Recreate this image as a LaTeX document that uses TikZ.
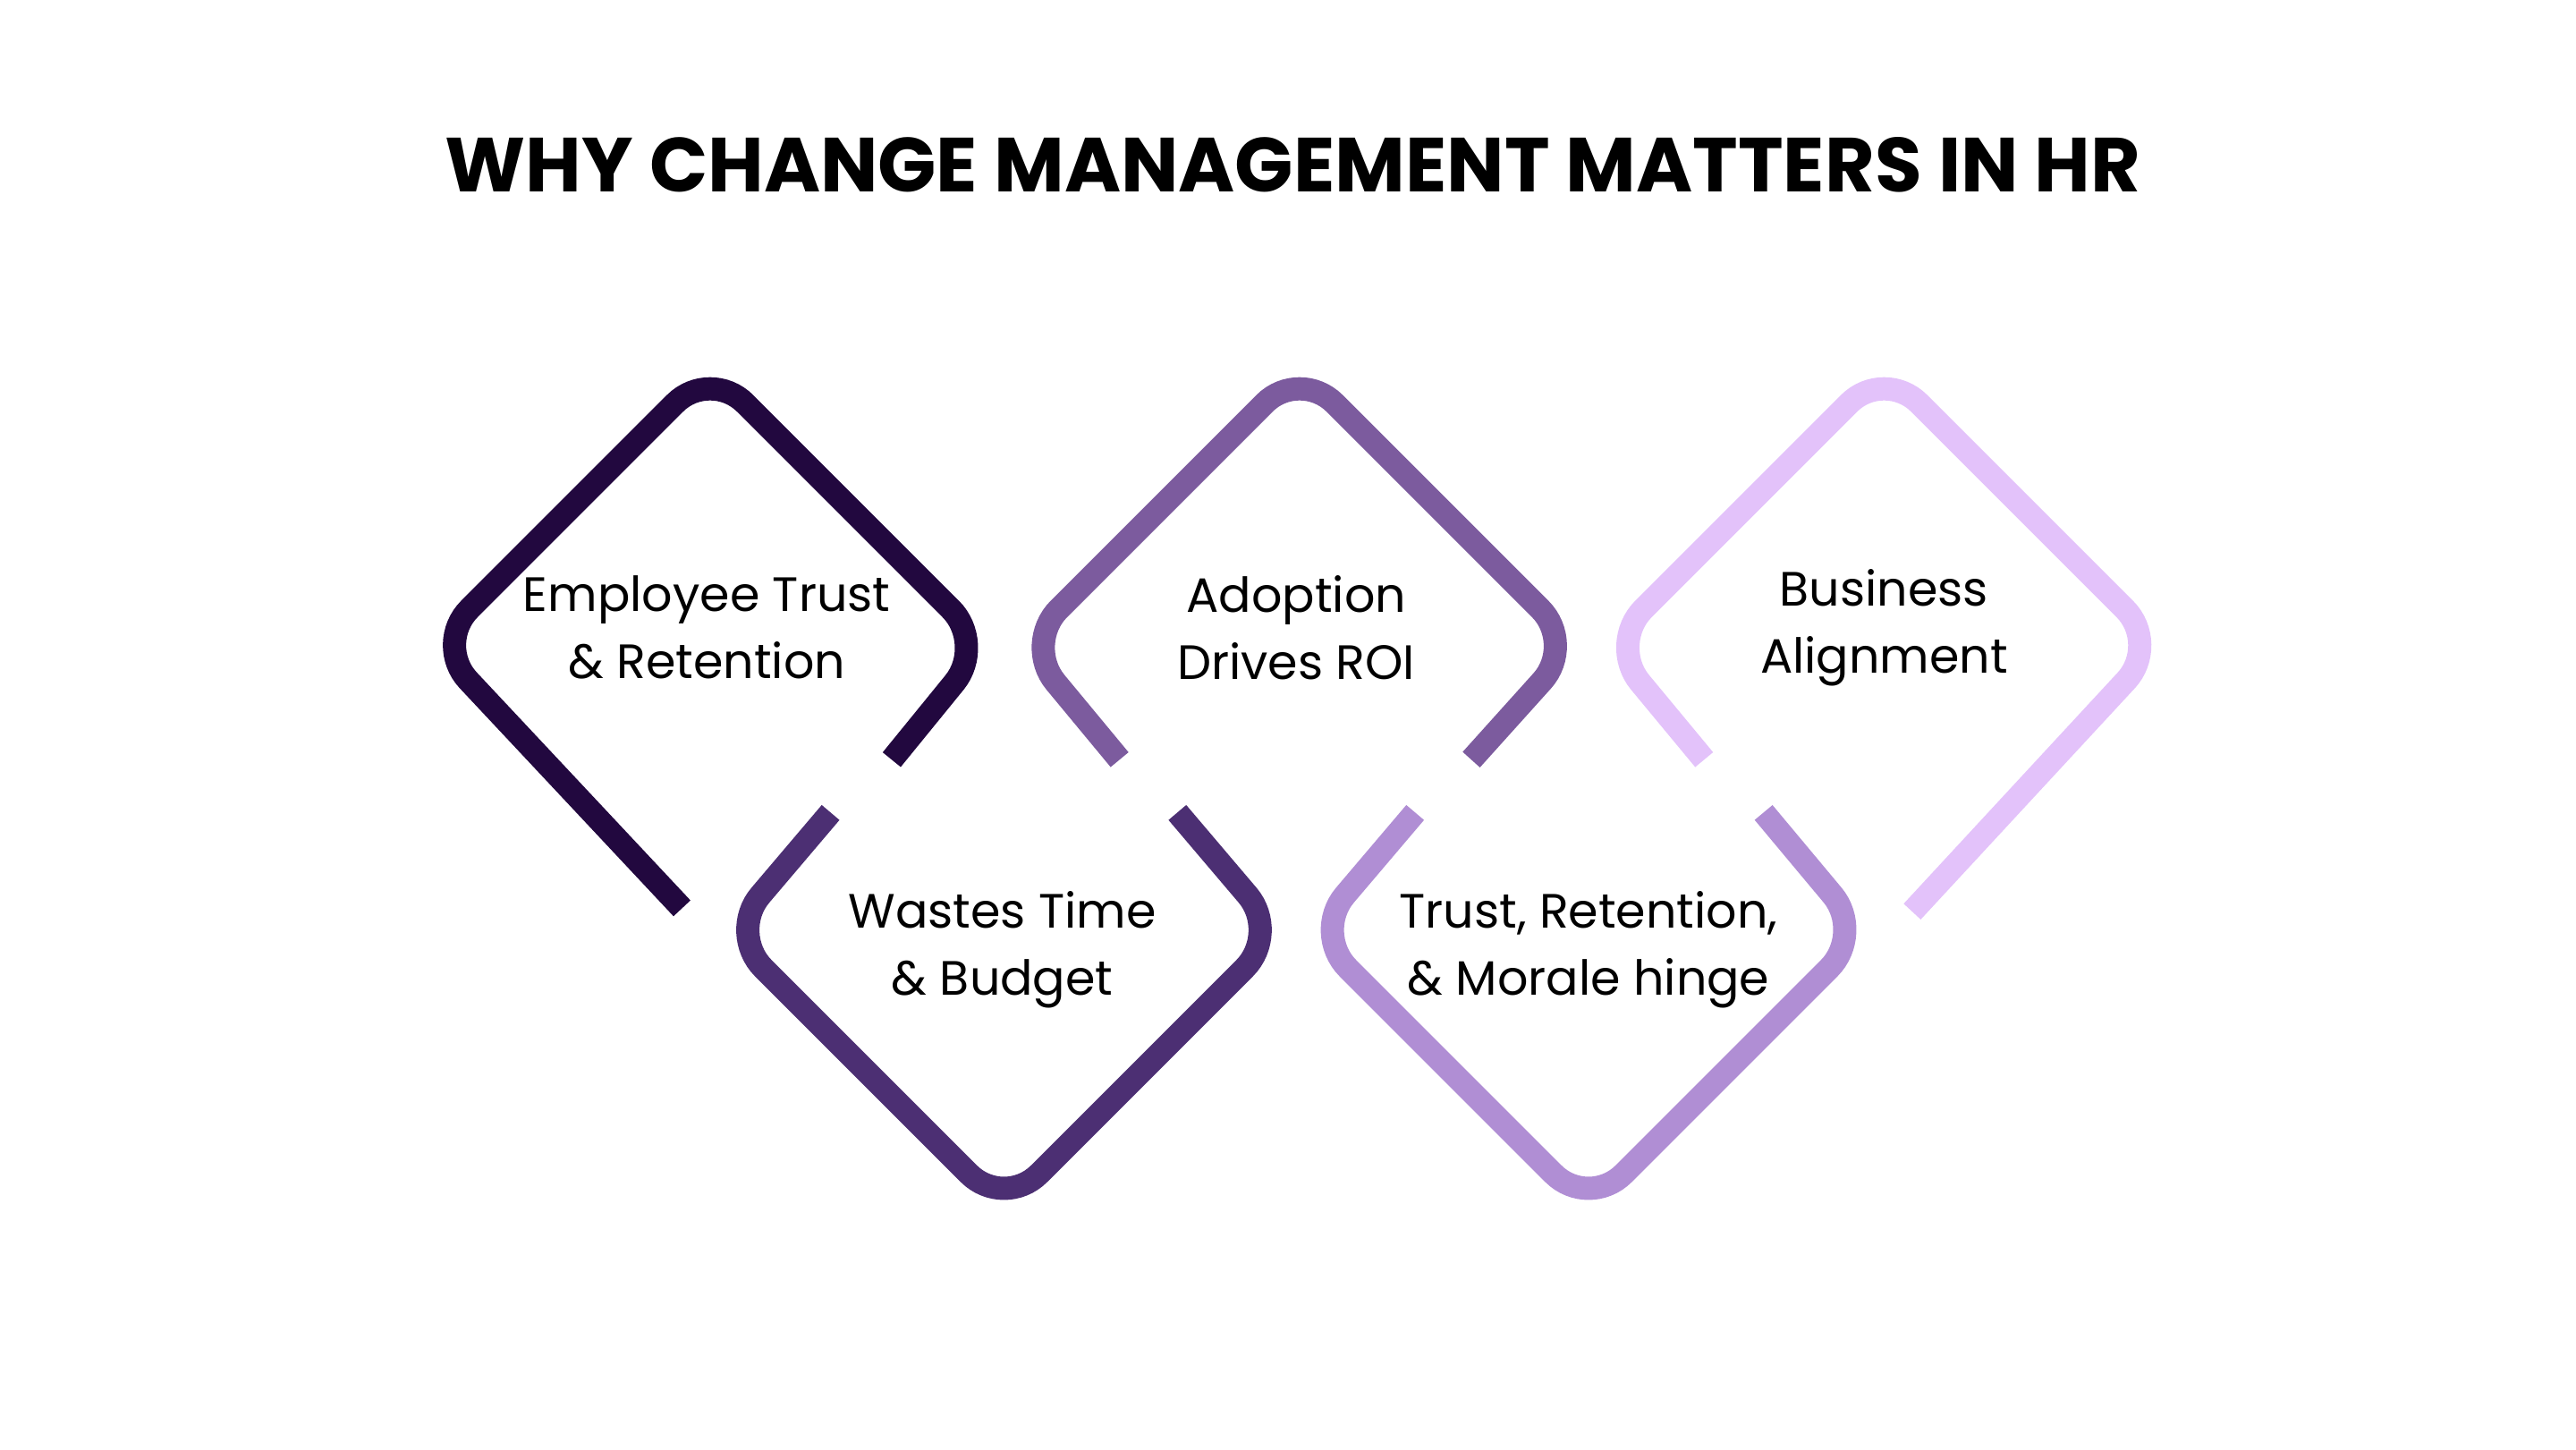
\documentclass[tikz,border=0pt]{standalone}
\usepackage{fontspec}
\setmainfont{Poppins}
\begin{document}
\begin{tikzpicture}[x=0.01cm,y=-0.01cm,
  dia/.style={line width=4pt,rounded corners=0.3cm},
  lbl/.style={font=\fontsize{8.3pt}{11.5pt}\selectfont,align=center,text=black}]
\useasboundingbox (0,0) rectangle (1560,877.5);
\definecolor{c1}{HTML}{22083F}
\definecolor{c2}{HTML}{4C2F73}
\definecolor{c3}{HTML}{7C5B9E}
\definecolor{c4}{HTML}{B08ED4}
\definecolor{c5}{HTML}{E3C2FA}
\node[font=\fontsize{13.2pt}{15pt}\selectfont\bfseries] (title) at (783,100) {WHY CHANGE MANAGEMENT MATTERS IN HR};
% diamond 1
\draw[dia,c1] (540,460) -- (597,390) -- (430,223) -- (263,390) -- (413,550);
% diamond 2
\draw[dia,c2] (503,492) -- (441,565) -- (608,732) -- (775,565) -- (713,492);
% diamond 3
\draw[dia,c3] (678,460) -- (620,390) -- (787,223) -- (954,390) -- (891,460);
% diamond 4
\draw[dia,c4] (857,492) -- (795,565) -- (962,732) -- (1129,565) -- (1068,492);
% diamond 5
\draw[dia,c5] (1032,460) -- (974,390) -- (1141,223) -- (1308,390) -- (1158,552);
\node[lbl] (t1) at (428,380) {Employee Trust\\\& Retention};
\node[lbl] (t2) at (607,575) {Wastes Time\\\& Budget};
\node[lbl] (t3) at (785,380) {Adoption\\Drives ROI};
\node[lbl] (t4) at (962,575) {Trust, Retention,\\\& Morale hinge};
\node[lbl] (t5) at (1141,380) {Business\\Alignment};
\end{tikzpicture}
\end{document}
